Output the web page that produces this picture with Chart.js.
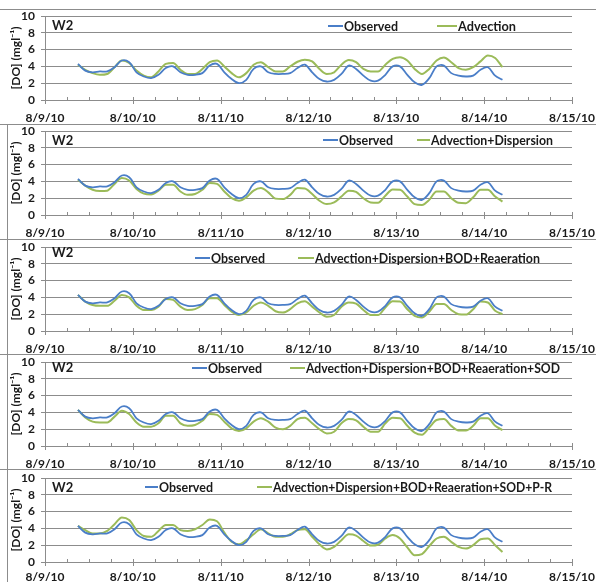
<!DOCTYPE html>
<html lang="en">
<head>
<meta charset="UTF-8">
<title>W2 DO</title>
<style>
    body { margin: 0; background: #fff; }
    #wrap { position: relative; width: 596px; height: 582px; overflow: hidden; }
    #wrap canvas { position: absolute; left: 0; }
    .sep { position: absolute; background: #8c8c8c; }
</style>
<script src="https://cdn.jsdelivr.net/npm/chart.js"></script>
</head>
<body>
<div id="wrap">
    <div class="sep" style="left:0;top:9px;width:596px;height:1px"></div>
    <div class="sep" style="left:0;top:124px;width:596px;height:1px"></div>
    <div class="sep" style="left:0;top:239px;width:596px;height:1px"></div>
    <div class="sep" style="left:0;top:354px;width:596px;height:1px"></div>
    <div class="sep" style="left:0;top:469px;width:596px;height:1px"></div>
    <div class="sep" style="left:7px;top:124px;width:1px;height:458px"></div>
</div>
<script>
// hours since 8/9/10 00:00, one sample every 2 h
const hours = [9, 11, 13, 15, 17, 19, 21, 23, 25, 27,
    29, 31, 33, 35, 37, 39, 41, 43, 45, 47,
    49, 51, 53, 55, 57, 59, 61, 63, 65, 67,
    69, 71, 73, 75, 77, 79, 81, 83, 85, 87,
    89, 91, 93, 95, 97, 99, 101, 103, 105, 107,
    109, 111, 113, 115, 117, 119, 121, 123, 125];

const observed = [4.3, 3.5, 3.3, 3.4, 3.4, 3.9, 4.7, 4.5, 3.3, 2.8,
    2.6, 3.0, 3.8, 4.0, 3.3, 3.0, 3.0, 3.2, 4.1, 4.3,
    3.3, 2.5, 2.0, 2.4, 3.7, 4.0, 3.3, 3.1, 3.1, 3.2,
    3.8, 4.2, 3.3, 2.5, 2.2, 2.4, 3.1, 4.1, 3.7, 2.9,
    2.3, 2.3, 3.0, 4.0, 4.0, 3.0, 2.1, 1.8, 2.6, 4.0,
    4.1, 3.2, 2.9, 2.8, 2.9, 3.6, 3.9, 2.9, 2.4];

const advection = [4.2, 3.6, 3.2, 3.0, 3.1, 3.9, 4.7, 4.4, 3.5, 2.9,
    2.7, 3.4, 4.3, 4.4, 3.6, 3.1, 3.1, 3.7, 4.5, 4.7,
    4.0, 3.2, 2.7, 3.2, 4.2, 4.5, 3.9, 3.4, 3.4, 4.0,
    4.55, 4.8, 4.6, 3.7, 3.1, 3.3, 4.2, 4.75, 4.5, 3.7,
    3.4, 3.4, 4.2, 4.9, 5.1, 4.7, 3.7, 3.1, 3.7, 4.7,
    5.05, 4.5, 3.8, 3.6, 3.9, 4.6, 5.3, 5.0, 3.9];

const advDisp = [4.2, 3.5, 3.0, 2.85, 2.9, 3.7, 4.4, 4.1, 3.1, 2.55,
    2.45, 2.9, 3.6, 3.6, 2.8, 2.4, 2.5, 3.0, 3.8, 3.7,
    2.8, 2.0, 1.7, 2.1, 2.9, 3.2, 2.7, 1.95, 1.9, 2.4,
    3.2, 3.15, 2.5, 1.7, 1.3, 1.5, 2.2, 2.9, 2.75, 2.0,
    1.5, 1.45, 2.3, 3.05, 3.0, 2.2, 1.3, 1.2, 1.8, 2.8,
    2.8, 2.0, 1.45, 1.4, 2.1, 3.0, 3.0, 2.2, 1.6];

const advDispBodRea = [4.3, 3.5, 3.1, 3.0, 3.0, 3.6, 4.3, 4.0, 3.0, 2.5,
    2.5, 2.9, 3.8, 3.7, 2.9, 2.5, 2.6, 3.1, 3.9, 3.9,
    3.1, 2.3, 1.9, 2.2, 3.0, 3.4, 3.0, 2.35, 2.2, 2.6,
    3.3, 3.55, 2.9, 2.2, 1.7, 1.9, 2.9, 3.4, 3.25, 2.5,
    1.9, 1.9, 2.8, 3.55, 3.5, 2.6, 1.8, 1.6, 2.3, 3.2,
    3.2, 2.5, 2.0, 1.95, 2.6, 3.5, 3.4, 2.4, 2.0];

const advDispBodReaSod = [4.3, 3.4, 2.9, 2.8, 2.8, 3.5, 4.2, 3.8, 2.8, 2.3,
    2.3, 2.7, 3.6, 3.6, 2.7, 2.4, 2.5, 3.0, 3.8, 3.7,
    2.9, 2.1, 1.8, 2.1, 2.9, 3.3, 2.9, 2.2, 2.0, 2.4,
    3.2, 3.35, 2.7, 2.0, 1.5, 1.7, 2.7, 3.2, 3.05, 2.3,
    1.7, 1.7, 2.7, 3.35, 3.3, 2.4, 1.6, 1.35, 2.2, 3.1,
    3.2, 2.4, 1.85, 1.85, 2.4, 3.3, 3.3, 2.4, 1.9];

const advDispBodReaSodPR = [4.3, 3.8, 3.4, 3.4, 3.7, 4.5, 5.3, 5.0, 3.8, 3.1,
    3.0, 3.7, 4.4, 4.4, 3.8, 3.7, 3.9, 4.4, 5.05, 4.85,
    3.5, 2.4, 2.1, 2.6, 3.3, 3.9, 3.4, 3.0, 3.0, 3.3,
    3.8, 3.9, 3.0, 2.1, 1.5, 1.8, 2.6, 3.3, 3.15, 2.5,
    1.95, 2.05, 2.8, 3.2, 2.8, 1.75, 0.8, 0.95, 1.9, 2.8,
    3.0, 2.4, 1.8, 1.6, 2.0, 2.7, 2.8, 2.0, 1.2];

const modelNames = ['Advection', 'Advection+Dispersion', 'Advection+Dispersion+BOD+Reaeration',
    'Advection+Dispersion+BOD+Reaeration+SOD', 'Advection+Dispersion+BOD+Reaeration+SOD+P-R'];
const modelSeries = [advection, advDisp, advDispBodRea, advDispBodReaSod, advDispBodReaSodPR];
const dateLabels = ['8/9/10', '8/10/10', '8/11/10', '8/12/10', '8/13/10', '8/14/10', '8/15/10'];
const stationName = 'W2';
const yTitle = '[DO] (mgl\u207B\u00B9)';

const BLUE = '#4a7ec8';
const GREEN = '#9bbb59';
const GRID = '#8c8c8c';
const FONT = 'Lato';

// panel layout: canvas top/height, plot top/bottom inside canvas, legend placement
const panels = [
    { top: 9, height: 115, plotTop: 7, plotBottom: 91, labelPad: 11, tagY: 17, legY: 17, obs: [328, 343], mod: [437, 457], modEnd: 516 },
    { top: 124, height: 115, plotTop: 7, plotBottom: 91, labelPad: 11, tagY: 17, legY: 16, obs: [323, 338], mod: [417, 430], modEnd: 553 },
    { top: 239, height: 115, plotTop: 8, plotBottom: 92, labelPad: 11, tagY: 14, legY: 19, obs: [195, 210], mod: [298, 314], modEnd: 540 },
    { top: 354, height: 115, plotTop: 8, plotBottom: 92, labelPad: 11, tagY: 14, legY: 14, obs: [192, 207], mod: [290, 305], modEnd: 560 },
    { top: 469, height: 113, plotTop: 9, plotBottom: 93, labelPad: 8, tagY: 19, legY: 18, obs: [145, 158], mod: [257, 272], modEnd: 552 }
];

const panelDecor = {
    id: 'panelDecor',
    afterDraw(chart, args, opts) {
        const ctx = chart.ctx;
        const area = chart.chartArea;
        const xs = chart.scales.x;
        ctx.save();
        // x tick marks: 6-hourly minor ticks inside, daily ticks crossing the axis
        ctx.strokeStyle = GRID;
        ctx.lineWidth = 1;
        xs.ticks.forEach(t => {
            const x = Math.round(xs.getPixelForValue(t.value)) + 0.5;
            const major = t.value % 24 === 0;
            ctx.beginPath();
            ctx.moveTo(x, area.bottom - 3);
            ctx.lineTo(x, area.bottom + (major ? 4 : 0));
            ctx.stroke();
        });
        ctx.fillStyle = '#1a1a1a';
        ctx.font = 'bold 13px ' + FONT;
        ctx.textBaseline = 'middle';
        ctx.fillText(stationName, 52, opts.tagY);
        // legend drawn inside the plot
        const ds = chart.data.datasets;
        const entries = [
            { seg: opts.obs, color: ds[0].borderColor, text: ds[0].label, end: opts.obs[1] + 55 },
            { seg: opts.mod, color: ds[1].borderColor, text: ds[1].label, end: opts.modEnd }
        ];
        entries.forEach(e => {
            ctx.strokeStyle = e.color;
            ctx.lineWidth = 2;
            ctx.beginPath();
            ctx.moveTo(e.seg[0], opts.legY);
            ctx.lineTo(e.seg[1], opts.legY);
            ctx.stroke();
            ctx.fillText(e.text, e.seg[1] + 1, opts.legY + 1, e.end - e.seg[1] - 1);
        });
        ctx.restore();
    }
};

const wrap = document.getElementById('wrap');

panels.forEach((p, i) => {
    const canvas = document.createElement('canvas');
    canvas.width = 596;
    canvas.height = p.height;
    canvas.style.top = p.top + 'px';
    canvas.style.width = '596px';
    canvas.style.height = p.height + 'px';
    wrap.appendChild(canvas);

    new Chart(canvas.getContext('2d'), {
        type: 'line',
        data: {
            datasets: [{
                label: 'Observed',
                data: hours.map((h, k) => ({ x: h, y: observed[k] })),
                borderColor: BLUE,
                borderWidth: 1.8,
                pointRadius: 0,
                tension: 0.35
            }, {
                label: modelNames[i],
                data: hours.map((h, k) => ({ x: h, y: modelSeries[i][k] })),
                borderColor: GREEN,
                borderWidth: 2,
                pointRadius: 0,
                cubicInterpolationMode: 'monotone'
            }]
        },
        options: {
            responsive: false,
            animation: false,
            layout: { padding: { left: 0, right: 24, top: p.plotTop, bottom: 0 } },
            plugins: {
                legend: { display: false },
                tooltip: { enabled: false },
                panelDecor: p
            },
            scales: {
                x: {
                    type: 'linear',
                    min: 0,
                    max: 144,
                    afterBuildTicks: s => {
                        const t = [];
                        for (let v = 0; v <= 144; v += 6) t.push({ value: v });
                        s.ticks = t;
                    },
                    afterFit: s => {
                        s.height = p.height - p.plotBottom;
                        s.paddingLeft = 0;
                        s.paddingRight = 0;
                    },
                    ticks: {
                        autoSkip: false,
                        maxRotation: 0,
                        padding: p.labelPad,
                        color: '#1a1a1a',
                        font: { family: FONT, weight: 'bold', size: 12 },
                        callback: v => (v % 24 === 0 ? dateLabels[v / 24] : '')
                    },
                    grid: { drawOnChartArea: false, drawTicks: false },
                    border: { color: GRID }
                },
                y: {
                    min: 0,
                    max: 10,
                    afterFit: s => {
                        s.width = 45;
                        s.paddingTop = 0;
                        s.paddingBottom = 0;
                    },
                    ticks: {
                        stepSize: 2,
                        autoSkip: false,
                        padding: 6,
                        color: '#1a1a1a',
                        font: { family: FONT, weight: 'bold', size: 12 }
                    },
                    grid: { color: GRID, tickLength: 4, tickColor: GRID },
                    border: { color: GRID },
                    title: {
                        display: true,
                        text: yTitle,
                        color: '#1a1a1a',
                        padding: { top: 9, bottom: 0 },
                        font: { family: FONT, weight: 'bold', size: 12 }
                    }
                }
            }
        },
        plugins: [panelDecor]
    });
});
</script>
</body>
</html>
